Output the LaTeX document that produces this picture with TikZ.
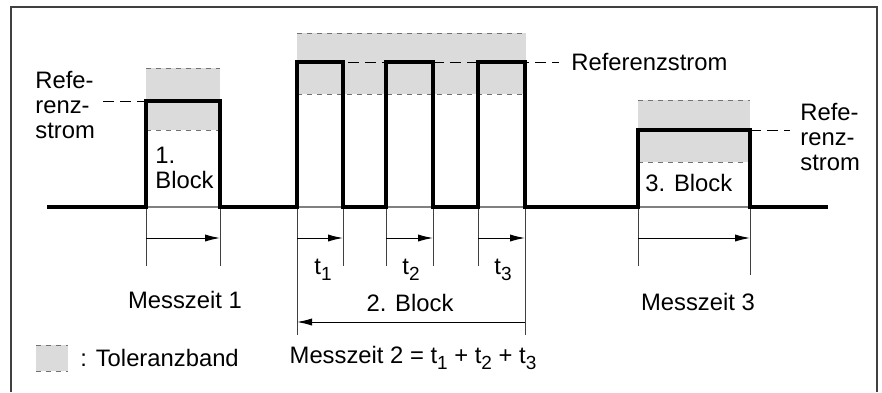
\documentclass[tikz,border=0pt]{standalone}
\usepackage{fontspec}
\setmainfont{Liberation Sans}
\usetikzlibrary{arrows.meta,calc}
\newcommand{\tsub}[1]{\raisebox{-0.45ex}{\fontsize{9.5}{9.5}\selectfont #1}}
\begin{document}
\begin{tikzpicture}[x=0.5pt,y=-0.5pt,
  puls/.style={line width=1.6pt,line join=miter},
  band/.style={fill=black!14,draw=none},
  bandrand/.style={black!55,line width=0.5pt,dash pattern=on 2.6pt off 2.4pt},
  refline/.style={black,line width=0.5pt,dash pattern=on 5.5pt off 3pt},
  grund/.style={black!50,line width=0.6pt},
  hilfslinie/.style={black!75,line width=0.5pt},
  mass/.style={line width=0.5pt,-{Latex[length=7.5pt,width=3.6pt]}},
  txt/.style={font=\fontsize{11.9}{12.6}\selectfont,inner sep=0pt},
  ]
\useasboundingbox (0,0) rectangle (882,392);
% frame
\draw[black!75,line width=0.8pt] (11,392) -- (11,7) -- (877,7) -- (877,392);
% tolerance bands
\fill[band] (146,68) rectangle (220,130);
\draw[bandrand] (146,68) -- (220,68) (146,130) -- (220,130);
\fill[band] (297,33) rectangle (526,94);
\draw[bandrand] (297,33) -- (526,33) (297,94) -- (526,94);
\fill[band] (638,100) rectangle (750,162);
\draw[bandrand] (638,100) -- (750,100) (638,162) -- (750,162);
% reference levels
\coordinate (r1) at (146,101);
\coordinate (r2) at (297,62);
\coordinate (r3) at (750,130);
\node[txt,align=left,anchor=west] (ref1) at (35,105) {Refe-\\renz-\\strom};
\node[txt,anchor=west] (ref2) at (571,62) {Referenzstrom};
\node[txt,align=left,anchor=west] (ref3) at (800,137) {Refe-\\renz-\\strom};
\draw[refline] ([xshift=4pt]ref1.east |- r1) -- (r1);
\draw[refline] (r2) -- ([xshift=-6pt]ref2.west);
\draw[refline] (r3) -- ([xshift=-5pt]ref3.west |- r3);
% base under the pulses
\draw[grund] (146,207) -- (220,207);
\draw[grund] (297,207) -- (343,207);
\draw[grund] (386,207) -- (433,207);
\draw[grund] (478,207) -- (525,207);
\draw[grund] (638,207) -- (750,207);
% extension lines
\draw[hilfslinie] (146,207) -- (146,266);
\draw[hilfslinie] (220,207) -- (220,266);
\draw[hilfslinie] (297,207) -- (297,335);
\draw[hilfslinie] (343,207) -- (343,266);
\draw[hilfslinie] (386,207) -- (386,266);
\draw[hilfslinie] (433,207) -- (433,266);
\draw[hilfslinie] (478,207) -- (478,266);
\draw[hilfslinie] (525,207) -- (525,335);
\draw[hilfslinie] (638,207) -- (638,266);
\draw[hilfslinie] (750,207) -- (750,275);
% signal
\draw[puls] (47,207) -- (146,207) -- (146,101) -- (220,101) -- (220,207)
  -- (297,207) -- (297,62) -- (343,62) -- (343,207)
  -- (386,207) -- (386,62) -- (433,62) -- (433,207)
  -- (478,207) -- (478,62) -- (525,62) -- (525,207)
  -- (638,207) -- (638,130) -- (750,130) -- (750,207) -- (828,207);
% block labels
\node[txt,align=left,anchor=west] (b1) at (155,168) {1.\\Block};
\node[txt,anchor=west] (b3) at (645,183) {3. Block};
% measuring times
\coordinate (m1a) at (146,238); \coordinate (m1b) at (220,238);
\coordinate (t1a) at (297,238); \coordinate (t1b) at (343,238);
\coordinate (t2a) at (386,238); \coordinate (t2b) at (433,238);
\coordinate (t3a) at (478,238); \coordinate (t3b) at (525,238);
\coordinate (m3a) at (638,238); \coordinate (m3b) at (750,238);
\coordinate (m2a) at (297,322); \coordinate (m2b) at (525,322);
\draw[mass] (m1a) -- (m1b);
\draw[mass] (t1a) -- (t1b);
\draw[mass] (t2a) -- (t2b);
\draw[mass] (t3a) -- (t3b);
\draw[mass] (m3a) -- (m3b);
\draw[mass,{Latex[length=7.5pt,width=3.6pt]}-] (m2a) -- (m2b);
\node[txt] (lt1) at (323,270) {t\tsub{1}};
\node[txt] (lt2) at (411,270) {t\tsub{2}};
\node[txt] (lt3) at (503,270) {t\tsub{3}};
\node[txt] (mz1) at (185,300) {Messzeit 1};
\node[txt] (b2) at (410,303) {2. Block};
\node[txt] (mz2) at (413,358) {Messzeit 2 = t\tsub{1} + t\tsub{2} + t\tsub{3}};
\node[txt] (mz3) at (698,302) {Messzeit 3};
% legend
\fill[band] (36,345) rectangle (68,371);
\draw[bandrand] (36,345) -- (68,345) (36,371) -- (68,371);
\node[txt,anchor=west] (leg) at (80,358) {: Toleranzband};
\end{tikzpicture}
\end{document}
